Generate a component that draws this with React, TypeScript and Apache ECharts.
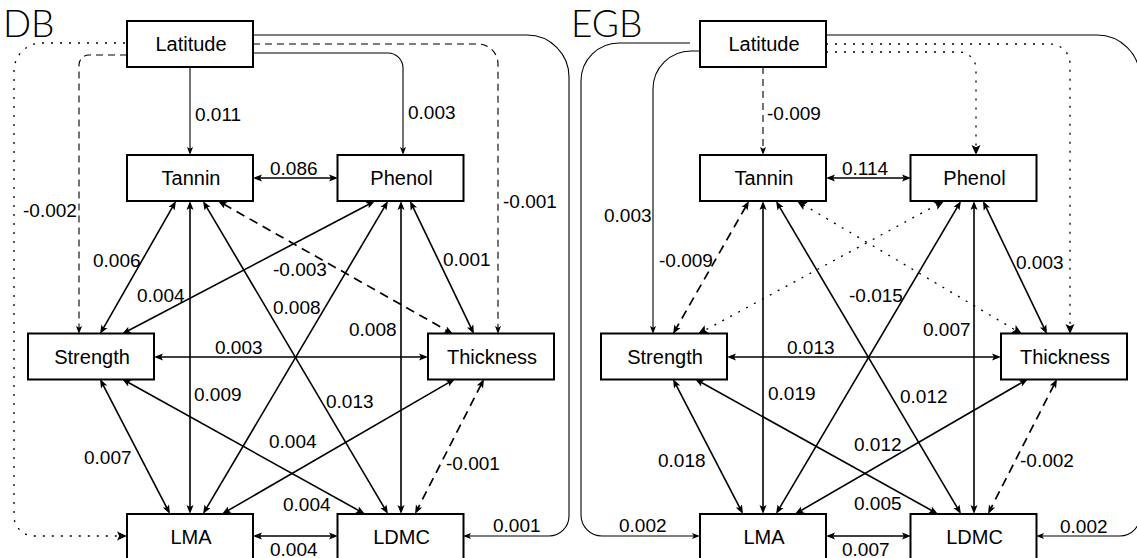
import React, { useEffect, useRef } from "react";
import * as echarts from "echarts";

// ---------------- data ----------------
const panelNames = ["DB", "EGB"];
const nodeNames = ["Latitude", "Tannin", "Phenol", "Strength", "Thickness", "LMA", "LDMC"];
const pathFrom = ["Latitude", "Latitude", "Latitude", "Latitude", "Latitude", "Latitude", "Tannin", "Tannin", "Tannin", "Tannin", "Tannin", "Phenol", "Phenol", "Phenol", "Phenol", "Strength", "Strength", "Strength", "Thickness", "Thickness", "LMA"];
const pathTo = ["Tannin", "Phenol", "Strength", "Thickness", "LMA", "LDMC", "Phenol", "Strength", "Thickness", "LMA", "LDMC", "Strength", "Thickness", "LMA", "LDMC", "Thickness", "LMA", "LDMC", "LMA", "LDMC", "LDMC"];
// null = non-significant path (no coefficient shown)
const dbValues: (number | null)[] = [0.011, 0.003, -0.002, -0.001, null, 0.001, 0.086, 0.006, -0.003, 0.009, 0.013, 0.004, 0.001, 0.008, 0.008, 0.003, 0.007, 0.004, 0.004, -0.001, 0.004];
const egbValues: (number | null)[] = [-0.009, null, 0.003, null, 0.002, 0.002, 0.114, -0.009, null, 0.019, 0.012, null, 0.003, -0.015, 0.007, 0.013, 0.018, 0.005, 0.012, -0.002, 0.007];
// line type of each path as drawn in the figure
const dbLineTypes = ["solid", "solid", "dashed", "dashed", "dotted", "solid", "solid", "solid", "dashed", "solid", "solid", "solid", "solid", "solid", "solid", "solid", "solid", "solid", "solid", "dashed", "solid"];
const egbLineTypes = ["dashed", "dotted", "solid", "dotted", "solid", "solid", "solid", "dashed", "dotted", "solid", "solid", "dotted", "solid", "solid", "solid", "solid", "solid", "solid", "solid", "dashed", "solid"];

// ---------------- layout ----------------
const panelOffsetX = [0, 573];
const boxW = 126;
const boxH = 46;
const boxCenter: Record<string, [number, number]> = {
  Latitude: [190, 44],
  Tannin: [190, 178],
  Phenol: [400.5, 178],
  Strength: [91, 356.5],
  Thickness: [491, 356.5],
  LMA: [190, 537],
  LDMC: [400.5, 537],
};
const routes: number[][][] = [
  [[190, 67], [190, 155]],
  [[253, 53], [403, 53], [403, 155]],
  [[127, 55], [79, 55], [79, 334]],
  [[253, 44], [498, 44], [498, 334]],
  [[125, 43], [14, 43], [14, 536], [127, 536]],
  [[253, 35], [569, 35], [569, 536], [463, 536]],
  [[253, 178], [338, 178]],
  [[176, 201], [100, 334]],
  [[218, 201], [453, 334]],
  [[190, 201], [190, 514]],
  [[203, 201], [388, 514]],
  [[375, 201], [122, 334]],
  [[410, 201], [474, 334]],
  [[388, 201], [203, 514]],
  [[401, 201], [401, 514]],
  [[154, 357], [428, 357]],
  [[100, 379], [170, 514]],
  [[122, 379], [365, 514]],
  [[455, 379], [222, 514]],
  [[484, 379], [415, 514]],
  [[253, 536], [338, 536]],
];
const routeRadii: number[][] = [[], [15], [10], [20], [28, 20], [42, 20]];
const egbRoutes: Record<number, number[][]> = {
  1: [[253, 52], [403, 52], [403, 155]],
  2: [[127, 51], [80, 51], [80, 334]],
  3: [[253, 44], [497, 44], [497, 334]],
  4: [[117, 43], [8, 43], [8, 536], [127, 536]],
  5: [[253, 35], [567, 35], [567, 536], [463, 536]],
  8: [[224, 201], [449, 334]],
  11: [[371, 201], [125, 334]],
};
const egbRadii: Record<number, number[]> = { 1: [17], 2: [38], 3: [20], 4: [38, 21], 5: [43, 20] };
const labelPos: (number[] | null)[][] = [
  [[195, 114.5], [408, 112], [23, 210], [503, 201], null, [493, 525], [270, 168], [93, 260], [273, 269], [194, 394], [326, 401], [137, 295], [443, 259], [273, 307], [349, 329], [215, 347], [84, 457], [283, 504], [269, 441], [446, 463], [270, 549]],
  [[767, 113], null, [604, 215], null, [619, 525], [1060, 526], [842, 168], [659, 260], null, [768, 393], [900, 396], null, [1016, 262], [849, 295], [923, 329], [787, 347], [658, 460], [854, 503], [854, 444], [1020, 460], [842, 549]],
];

const FONT = '"Liberation Sans", Arial, Helvetica, sans-serif';

function roundedPath(pts: number[][], radii: number[]): string {
  let d = `M${pts[0][0]},${pts[0][1]}`;
  const K = 0.5523;
  for (let i = 1; i < pts.length - 1; i++) {
    const [px, py] = pts[i - 1];
    const [cx, cy] = pts[i];
    const [nx, ny] = pts[i + 1];
    const r = radii[i - 1] || 0;
    const l1 = Math.hypot(cx - px, cy - py) || 1;
    const l2 = Math.hypot(nx - cx, ny - cy) || 1;
    const ax = cx - ((cx - px) / l1) * r;
    const ay = cy - ((cy - py) / l1) * r;
    const bx = cx + ((nx - cx) / l2) * r;
    const by = cy + ((ny - cy) / l2) * r;
    d += ` L${ax},${ay} C${ax + (cx - ax) * K},${ay + (cy - ay) * K} ${bx + (cx - bx) * K},${by + (cy - by) * K} ${bx},${by}`;
  }
  const l = pts[pts.length - 1];
  d += ` L${l[0]},${l[1]}`;
  return d;
}

function arrowHead(tip: number[], from: number[], len: number, hw: number): number[][] {
  const dx = tip[0] - from[0];
  const dy = tip[1] - from[1];
  const L = Math.hypot(dx, dy) || 1;
  const ux = dx / L;
  const uy = dy / L;
  const bx = tip[0] - ux * len;
  const by = tip[1] - uy * len;
  return [
    tip,
    [bx - uy * hw, by + ux * hw],
    [tip[0] - ux * len * 0.78, tip[1] - uy * len * 0.78],
    [bx + uy * hw, by - ux * hw],
  ];
}

function shorten(a: number[], b: number[], s: number): number[] {
  const dx = b[0] - a[0];
  const dy = b[1] - a[1];
  const L = Math.hypot(dx, dy) || 1;
  return [b[0] - (dx / L) * s, b[1] - (dy / L) * s];
}

const edgeItems: { panel: number; edge: number }[] = [];
panelNames.forEach((_, p) => pathFrom.forEach((__, e) => edgeItems.push({ panel: p, edge: e })));
const boxItems: { panel: number; node: string }[] = [];
panelNames.forEach((_, p) => nodeNames.forEach((n) => boxItems.push({ panel: p, node: n })));

function buildOption() {
  return {
    animation: false,
    backgroundColor: "#fff",
    title: panelNames.map((t, p) => ({
      text: t,
      left: p === 0 ? 3 : 571,
      top: 4,
      padding: 0,
      textStyle: { fontFamily: "Lato, 'Noto Sans', sans-serif", fontWeight: 300, fontSize: 37, color: "#000" },
    })),
    grid: { left: 0, right: 0, top: 0, bottom: 0, containLabel: false },
    xAxis: { type: "value", min: 0, max: 1137, show: false },
    yAxis: { type: "value", min: 0, max: 558, inverse: true, show: false },
    series: [
      {
        type: "custom",
        name: "paths",
        clip: false,
        silent: true,
        data: edgeItems.map(() => [0, 0]),
        renderItem: (params: any, api: any) => {
          const { panel, edge } = edgeItems[params.dataIndex];
          const values = panel === 0 ? dbValues : egbValues;
          const types = panel === 0 ? dbLineTypes : egbLineTypes;
          const v = values[edge];
          const lt = types[edge];
          const ox = panelOffsetX[panel];
          const local = (panel === 1 && egbRoutes[edge]) || routes[edge];
          const radii = (panel === 1 ? egbRadii[edge] : routeRadii[edge]) || [];
          const pts = local.map((q) => api.coord([q[0] + ox, q[1]]));
          const direct = pathFrom[edge] === "Latitude";
          const dotted = lt === "dotted";
          const dashed = lt === "dashed";
          const len = dotted ? 10 : direct ? 8 : 9;
          const hw = dotted ? 4.5 : direct ? 3 : 3.5;
          const lineW = dotted ? 1.3 : direct ? 1.1 : dashed ? 1.7 : 1.6;
          const n = pts.length;
          const linePts = pts.map((q: number[]) => q.slice());
          linePts[n - 1] = shorten(pts[n - 2], pts[n - 1], len * 0.7);
          if (!direct) linePts[0] = shorten(pts[1], pts[0], len * 0.7);
          const children: any[] = [
            {
              type: "path",
              shape: { pathData: roundedPath(linePts, radii) },
              style: {
                fill: null,
                stroke: "#000",
                lineWidth: lineW,
                lineDash: dotted ? [2, 7] : dashed ? (direct ? [7, 5] : [9, 6]) : null,
              },
            },
            { type: "polygon", shape: { points: arrowHead(pts[n - 1], pts[n - 2], len, hw) }, style: { fill: "#000" } },
          ];
          if (!direct) {
            children.push({ type: "polygon", shape: { points: arrowHead(pts[0], pts[1], len, hw) }, style: { fill: "#000" } });
          }
          const lp = labelPos[panel][edge];
          if (v !== null && lp) {
            const c = api.coord(lp);
            children.push({
              type: "text",
              x: c[0],
              y: c[1],
              style: {
                text: v.toFixed(3),
                fill: "#000",
                font: `19px ${FONT}`,
                align: "left",
                verticalAlign: "middle",
                textAlign: "left",
                textVerticalAlign: "middle",
              },
            });
          }
          return { type: "group", children };
        },
      },
      {
        type: "custom",
        name: "variables",
        clip: false,
        silent: true,
        data: boxItems.map(() => [0, 0]),
        renderItem: (params: any, api: any) => {
          const { panel, node } = boxItems[params.dataIndex];
          const [cx, cy] = boxCenter[node];
          const ox = panelOffsetX[panel];
          const p1 = api.coord([cx + ox - boxW / 2, cy - boxH / 2]);
          const p2 = api.coord([cx + ox + boxW / 2, cy + boxH / 2]);
          const c = api.coord([cx + ox + 1, cy]);
          return {
            type: "group",
            children: [
              {
                type: "rect",
                shape: { x: p1[0], y: Math.min(p1[1], p2[1]), width: p2[0] - p1[0], height: Math.abs(p2[1] - p1[1]) },
                style: { fill: "#fff", stroke: "#000", lineWidth: 2 },
              },
              {
                type: "text",
                x: c[0],
                y: c[1],
                style: {
                  text: node,
                  fill: "#000",
                  font: `20px ${FONT}`,
                  align: "center",
                  verticalAlign: "middle",
                  textAlign: "center",
                  textVerticalAlign: "middle",
                },
              },
            ],
          };
        },
      },
    ],
  };
}

export default function App() {
  const ref = useRef<HTMLDivElement>(null);
  useEffect(() => {
    if (!ref.current) return;
    const chart = echarts.init(ref.current, null, { renderer: "svg" });
    chart.setOption(buildOption() as any);
    return () => chart.dispose();
  }, []);
  return (
    <div
      ref={ref}
      style={{ position: "fixed", left: 0, top: 0, width: 1137, height: 558, background: "#fff" }}
    />
  );
}
